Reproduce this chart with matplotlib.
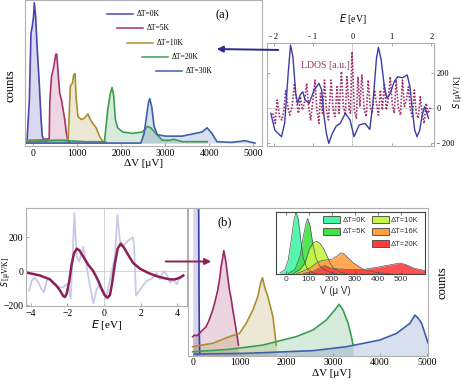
import matplotlib.pyplot as plt
import numpy as np
from matplotlib.patches import FancyArrowPatch, Rectangle
from matplotlib.lines import Line2D

W, H = 463, 381
plt.rcParams['font.family'] = ['Liberation Serif', 'DejaVu Serif']

# ---------------- panel (a) histograms: dV [uV] vs counts ----------------
a_labels = ["ΔT=0K", "ΔT=5K", "ΔT=10K", "ΔT=20K", "ΔT=30K"]
a_colors = ["#4b44b0", "#a8326e", "#a89030", "#3a9e52", "#3e5fae"]

a0_v = [-160, -140, -90, -53, -23, 5, 23, 53, 90, 135, 173, 203, 250, 300]
a0_c = [0.0, 0.02, 0.3, 0.78, 0.83, 0.9, 1.0, 0.9, 0.66, 0.42, 0.18, 0.04, 0.01, 0.0]
a5_v = [-160, 100, 300, 361, 376, 414, 466, 511, 534, 564, 600, 640, 677, 714, 752, 790, 820]
a5_c = [0.01, 0.01, 0.02, 0.02, 0.3, 0.47, 0.54, 0.63, 0.63, 0.49, 0.35, 0.3, 0.23, 0.16, 0.06, 0.0, 0.0]
a10_v = [-150, 400, 700, 790, 842, 887, 917, 947, 977, 1015, 1090, 1165, 1240, 1278, 1354, 1429, 1504, 1580, 1650]
a10_c = [0.01, 0.01, 0.01, 0.01, 0.4, 0.42, 0.48, 0.49, 0.3, 0.18, 0.16, 0.17, 0.2, 0.17, 0.13, 0.1, 0.04, 0.0, 0.0]
a20_v = [-150, 600, 1200, 1617, 1692, 1752, 1790, 1827, 1865, 1918, 2031, 2256, 2482, 2595, 2670,
         2783, 2933, 3083, 3196, 3384, 3950]
a20_c = [0.0, 0.01, 0.0, 0.0, 0.23, 0.35, 0.39, 0.33, 0.16, 0.1, 0.07, 0.06, 0.07, 0.11, 0.1,
         0.06, 0.01, 0.01, 0.017, 0.0, 0.0]
a30_v = [-150, 1000, 2000, 2444, 2519, 2572, 2617, 2647, 2692, 2745, 2820, 3008, 3384, 3685, 3835,
         3948, 4061, 4174, 4512, 4813, 5038]
a30_c = [-0.01, -0.01, -0.01, -0.01, 0.06, 0.18, 0.28, 0.31, 0.25, 0.11, 0.05, 0.04, 0.04, 0.06, 0.07,
         0.1, 0.06, 0.0, -0.005, 0.007, -0.01]

# ---------------- inset (a): Seebeck S(E) and LDOS ----------------
sa_E = [-2.07, -1.97, -1.80, -1.72, -1.63, -1.57, -1.51, -1.44, -1.39, -1.33, -1.26, -1.20, -1.10,
        -0.97, -0.85, -0.78, -0.72, -0.66, -0.60, -0.51, -0.41, -0.31, -0.18, -0.06, 0.04, 0.17,
        0.32, 0.44, 0.52, 0.61, 0.66, 0.73, 0.81, 0.88, 0.96, 1.06, 1.15, 1.27, 1.39, 1.46, 1.52,
        1.58, 1.64, 1.71, 1.77, 1.83, 1.89, 1.93]
sa_S = [-32, -128, -166, -90, 196, 358, 291, 82, 25, 72, 91, 44, 25,
        101, 139, 101, -51, -147, -204, -147, -105, -90, -32, -70, -166, -99,
        -90, -124, 25, 282, 345, 272, 120, 53, 82, 149, 177, 171, 187, 120, -13,
        -128, -166, -128, -42, 6, -32, -61]
ldos_E = [-2.02, -1.96, -1.91, -1.85, -1.79, -1.74, -1.69, -1.64, -1.59, -1.53, -1.47, -1.42, -1.37,
          -1.32, -1.27, -1.22, -1.16, -1.11, -1.06, -1.00, -0.95, -0.90, -0.85, -0.81, -0.76, -0.71,
          -0.66, -0.61, -0.54, -0.49, -0.44, -0.39, -0.34, -0.28, -0.23, -0.18, -0.14, -0.08, -0.05,
          -0.01, 0.05, 0.10, 0.14, 0.19, 0.24, 0.30, 0.35, 0.40, 0.45, 0.50, 0.56, 0.61, 0.66, 0.71,
          0.76, 0.81, 0.86, 0.91, 0.96, 1.01, 1.06, 1.11, 1.16, 1.22, 1.27, 1.32, 1.37, 1.42, 1.47,
          1.52, 1.57, 1.62, 1.67, 1.72, 1.77, 1.82, 1.87, 1.92, 1.99]
ldos_S = [-32, -90, 44, -51, -70, -13, 101, 6, -42, 6, 139, 44, -32,
          63, -13, 25, 139, 6, -70, 44, 158, -13, -90, 82, -32, 158,
          -13, -70, 158, -13, -51, 120, -32, 206, 6, -42, 177, -13, -32,
          320, -13, -61, 177, 6, 187, -13, -51, 158, 6, -32, 101, 25, -42, 101,
          -13, 139, -13, 44, 177, 25, -32, 158, 6, -42, 158, 6, 44, 120, -13,
          -51, 101, -32, -61, 63, -32, -90, 25, -32, 6]

# ---------------- panel (b) left: S(E) ----------------
sb_E = [-4.14, -3.5, -2.95, -2.59, -2.40, -2.22, -2.13, -2.04, -1.91, -1.77, -1.64, -1.49, -1.35,
        -1.13, -0.86, -0.58, -0.31, -0.13, 0.05, 0.2, 0.33, 0.45, 0.6, 0.75, 0.91, 1.09, 1.33,
        1.60, 1.97, 2.42, 2.88, 3.33, 3.61, 3.88, 4.15, 4.33]
sb_S = [-10, -25, -48, -86, -114, -147, -152, -133, -67, 38, 105, 133, 124,
        86, 38, 0, -57, -105, -143, -156, -139, -67, 48, 133, 162, 139, 95,
        48, 15, -10, -29, -42, -48, -48, -38, -25]
sraw_E = [-4.1, -3.95, -3.77, -3.59, -3.41, -3.28, -3.13, -2.99, -2.77, -2.49, -2.22, -2.04, -1.91,
          -1.82, -1.71, -1.62, -1.49, -1.35, -1.13, -0.98, -0.80, -0.58, -0.40, -0.22, -0.04, 0.11,
          0.33, 0.60, 0.73, 0.87, 1.06, 1.33, 1.57, 1.64, 1.75, 1.88, 2.06, 2.33, 2.61, 2.88, 3.06,
          3.24, 3.43, 3.61, 3.79, 3.97, 4.15, 4.33]
sraw_S = [-114, -57, -38, -67, -105, -124, -57, -44, -76, -95, -95, -76, -105,
          -162, 86, 343, 86, 57, 143, 48, -67, -190, -105, -76, -114, -162,
          -48, 86, 333, 181, 152, 181, 200, 162, -143, -124, -95, -57, -44, -10, -48,
          0, -19, -67, -48, -76, -38, -29]

# ---------------- panel (b) main histograms ----------------
b_colors = ["#3a3aa8", "#9a2a62", "#a89030", "#3a9e52", "#3e5fae"]
b0_v = [0, 120, 136, 142, 150]
b0_c = [1.5, 1.5, 0.4, 0.13, 0.02]
b5_v = [0, 40, 90, 143, 200, 286, 350, 428, 480, 536, 575, 607, 640, 664, 690, 714, 750, 785, 820,
        857, 890, 928, 978]
b5_c = [0.129, 0.14, 0.135, 0.151, 0.17, 0.196, 0.24, 0.309, 0.37, 0.445, 0.52, 0.603, 0.66, 0.711,
        0.67, 0.625, 0.53, 0.445, 0.39, 0.309, 0.25, 0.174, 0.072]
b10_v = [0, 428, 785, 1000, 1142, 1285, 1392, 1449, 1492, 1535, 1607, 1714, 1785]
b10_c = [0.061, 0.084, 0.129, 0.151, 0.219, 0.309, 0.4, 0.49, 0.528, 0.467, 0.4, 0.264, 0.072]
b20_v = [0, 785, 1500, 2213, 2570, 2856, 3035, 3128, 3213, 3320, 3392, 3427]
b20_c = [0.027, 0.043, 0.072, 0.129, 0.174, 0.242, 0.309, 0.348, 0.309, 0.219, 0.129, 0.072]
b30_v = [36, 1142, 2570, 3284, 3998, 4355, 4641, 4748, 4820, 4891, 4962, 5019, 5040]
b30_c = [0.011, 0.016, 0.034, 0.061, 0.106, 0.151, 0.219, 0.275, 0.253, 0.219, 0.151, 0.095, 0.08]

# ---------------- inset (b): V [uV] distributions ----------------
ib_labels = ["ΔT=0K", "ΔT=5K", "ΔT=10K", "ΔT=16K", "ΔT=20K"]
ib_colors = ["#45f5a5", "#44e044", "#c8f542", "#ffa040", "#ff3d3d"]
i0_v = [-25, -3, 11, 26, 36, 45, 55, 65, 76, 91, 112, 134]
i0_c = [0.01, 0.064, 0.22, 0.6, 0.87, 1.0, 0.87, 0.55, 0.25, 0.09, 0.02, 0.0]
i5_v = [11, 40, 62, 76, 88, 95, 105, 117, 131, 148, 170, 199, 221]
i5_c = [0.0, 0.064, 0.28, 0.6, 0.81, 0.89, 0.78, 0.49, 0.25, 0.12, 0.053, 0.01, 0.0]
i10_v = [33, 62, 84, 102, 120, 134, 148, 163, 177, 192, 206, 235, 264]
i10_c = [0.0, 0.064, 0.17, 0.39, 0.5, 0.52, 0.49, 0.41, 0.3, 0.17, 0.09, 0.02, 0.0]
i16_v = [47, 76, 105, 134, 156, 177, 199, 221, 238, 249, 271, 293, 314, 336, 365, 408, 452]
i16_c = [0.0, 0.04, 0.09, 0.17, 0.21, 0.22, 0.23, 0.28, 0.33, 0.33, 0.25, 0.17, 0.12, 0.064, 0.037, 0.01, 0.0]
i20_v = [76, 120, 148, 170, 192, 221, 278, 336, 394, 452, 495, 523, 552, 581, 603]
i20_c = [0.0, 0.037, 0.09, 0.13, 0.09, 0.075, 0.064, 0.064, 0.1, 0.14, 0.17, 0.14, 0.09, 0.064, 0.048]


def px_axes(l, t, r, b):
    return fig.add_axes([l / W, 1 - b / H, (r - l) / W, (b - t) / H])


def frame(ax, color="#b0b0b0"):
    for s in ax.spines.values():
        s.set_color(color)
        s.set_linewidth(0.8)
    ax.tick_params(direction="in", length=2.5, width=0.6, color="#999999", labelsize=7, pad=2)


def ftext(x, y, s, **kw):
    # text placed in reference pixel coordinates (from top-left)
    return fig.text(x / W, 1 - y / H, s, ha=kw.pop("ha", "center"), va=kw.pop("va", "center"), **kw)


fig = plt.figure(figsize=(W / 100, H / 100), dpi=100)

# ---- (a) main ----
ax = px_axes(25, 0, 261.7, 146)
frame(ax)
for v, c, col in zip([a0_v, a5_v, a10_v, a20_v, a30_v], [a0_c, a5_c, a10_c, a20_c, a30_c], a_colors):
    ax.fill_between(v, c, -0.01, color=col, alpha=0.2, lw=0)
    ax.plot(v, c, color=col, lw=1.2)
ax.set_xlim(-189, 5191)
ax.set_ylim(-0.031, 1.02)
ax.set_xticks([0, 1000, 2000, 3000, 4000, 5000])
ax.set_yticks([])
ax.tick_params(top=False, labelsize=7)
ax.set_xlabel("ΔV [μV]", fontsize=8, labelpad=1)
ftext(10, 86, "counts", rotation=90, fontsize=9)
ftext(222, 15, "(a)", fontsize=9)
# staggered legend
leg_pos = [(107, 14), (117, 28), (127, 43), (142, 57), (156, 71)]
for (lx, ly), lab, col in zip(leg_pos, a_labels, a_colors):
    fig.add_artist(Line2D([lx / W, (lx + 26) / W], [1 - ly / H, 1 - ly / H], color=col, lw=1.1))
    ftext(lx + 30, ly, lab, fontsize=5.5, ha="left")

# ---- inset (a) ----
ax = px_axes(267.3, 43.3, 434, 146)
frame(ax)
ax.axhline(0, color="#cccccc", lw=0.6)
ax.axvline(0, color="#cccccc", lw=0.6)
ax.plot(ldos_E, ldos_S, color="#a0306a", lw=1.2, ls=(0, (1, 1)))
ax.plot(sa_E, sa_S, color="#3d3da8", lw=1.0)
ax.set_xlim(-2.16, 2.07)
ax.set_ylim(-219, 368)
ax.xaxis.tick_top()
ax.yaxis.tick_right()
ax.set_xticks([-2, -1, 0, 1, 2])
ax.set_xticklabels(["- 2", "- 1", "0", "1", "2"])
ax.set_yticks([-200, 0, 200])
ax.set_yticklabels(["- 200", "0", "200"])
ax.tick_params(labelsize=6, top=True, bottom=True, left=True, right=True)
ftext(353, 19, "$E$ [eV]", fontsize=7)
ftext(457, 92, "$S$ [μV/K]", fontsize=6, rotation=90)
ftext(325, 65, "LDOS [a.u.]", fontsize=7, color="#a0306a")

# ---- (b) left ----
ax = px_axes(26, 208.3, 186.7, 306)
frame(ax)
ax.axhline(0, color="#cccccc", lw=0.6)
ax.axvline(0, color="#cccccc", lw=0.6)
ax.plot(sraw_E, sraw_S, color="#c8cae6", lw=1.3)
ax.plot(sb_E, sb_S, color="#8b2058", lw=1.8)
ax.set_xlim(-4.26, 4.52)
ax.set_ylim(-205, 371)
ax.set_xticks([-4, -2, 0, 2, 4])
ax.set_yticks([-200, 0, 200])
ax.tick_params(labelsize=7)
ftext(107, 325, "$E$ [eV]", fontsize=8)
ftext(5, 272, "$S$ [μV/K]", fontsize=5.5, rotation=90)

# ---- (b) main ----
ax = px_axes(188.3, 208, 428.3, 355.7)
frame(ax)
for v, c, col in zip([b0_v, b5_v, b10_v, b20_v, b30_v], [b0_c, b5_c, b10_c, b20_c, b30_c], b_colors):
    ax.fill_between(v, c, 0.0, color=col, alpha=0.2, lw=0)
    ax.plot(v, c, color=col, lw=1.2)
ax.set_xlim(-94, 5034)
ax.set_ylim(0, 1)
ax.set_xticks([0, 1000, 2000, 3000, 4000, 5000])
ax.set_yticks([])
ax.tick_params(labelsize=7)
ftext(332, 374, "ΔV [μV]", fontsize=8)
ftext(442, 283, "counts", fontsize=9, rotation=90)
ftext(225, 222, "(b)", fontsize=9)

# ---- inset (b) ----
ax = px_axes(276, 211.7, 425, 273.5)
for s in ax.spines.values():
    s.set_color("#444444")
    s.set_linewidth(0.8)
for v, c, col in zip([i0_v, i5_v, i10_v, i16_v, i20_v], [i0_c, i5_c, i10_c, i16_c, i20_c], ib_colors):
    ax.fill_between(v, c, 0, color=col, alpha=0.9, lw=0)
for v, c in zip([i0_v, i5_v, i10_v, i16_v, i20_v], [i0_c, i5_c, i10_c, i16_c, i20_c]):
    ax.plot(v, c, color="#555555", lw=0.5)
ax.set_xlim(-42, 603)
ax.set_ylim(0, 1.0)
ax.set_xticks([0, 100, 200, 300, 400, 500])
ax.set_yticks([])
ax.tick_params(direction="in", length=2, width=0.5, color="#444444", labelsize=6, pad=2,
               top=True, labelfontfamily="Liberation Sans", labelcolor="#333333")
ftext(335, 291, "V (μ V)", fontsize=7, family="Liberation Sans", color="#333333")
leg_b = [(160, 60), (160, 95), (305, 60), (305, 95), (305, 132)]
for (lx, ly), lab, col in zip(leg_b, ib_labels, ib_colors):
    x0 = 270 + lx / 3
    y0 = 200 + ly / 3
    fig.add_artist(Rectangle((x0 / W, 1 - (y0 + 3.5) / H), 17 / W, 7 / H, transform=fig.transFigure,
                             facecolor=col, edgecolor="#444444", lw=0.6))
    ftext(x0 + 19, y0, lab, fontsize=5.5, ha="left", family="Liberation Sans", color="#333333")

# arrows
fig.add_artist(FancyArrowPatch((281 / W, 1 - 50 / H), (214 / W, 1 - 49 / H), transform=fig.transFigure,
                               arrowstyle="-|>", mutation_scale=9, color="#2a2a8a", lw=1.4))
fig.add_artist(FancyArrowPatch((163 / W, 1 - 261.5 / H), (214 / W, 1 - 261.5 / H), transform=fig.transFigure,
                               arrowstyle="-|>", mutation_scale=9, color="#8b2252", lw=1.4))

fig.savefig("out.png", dpi=100)
